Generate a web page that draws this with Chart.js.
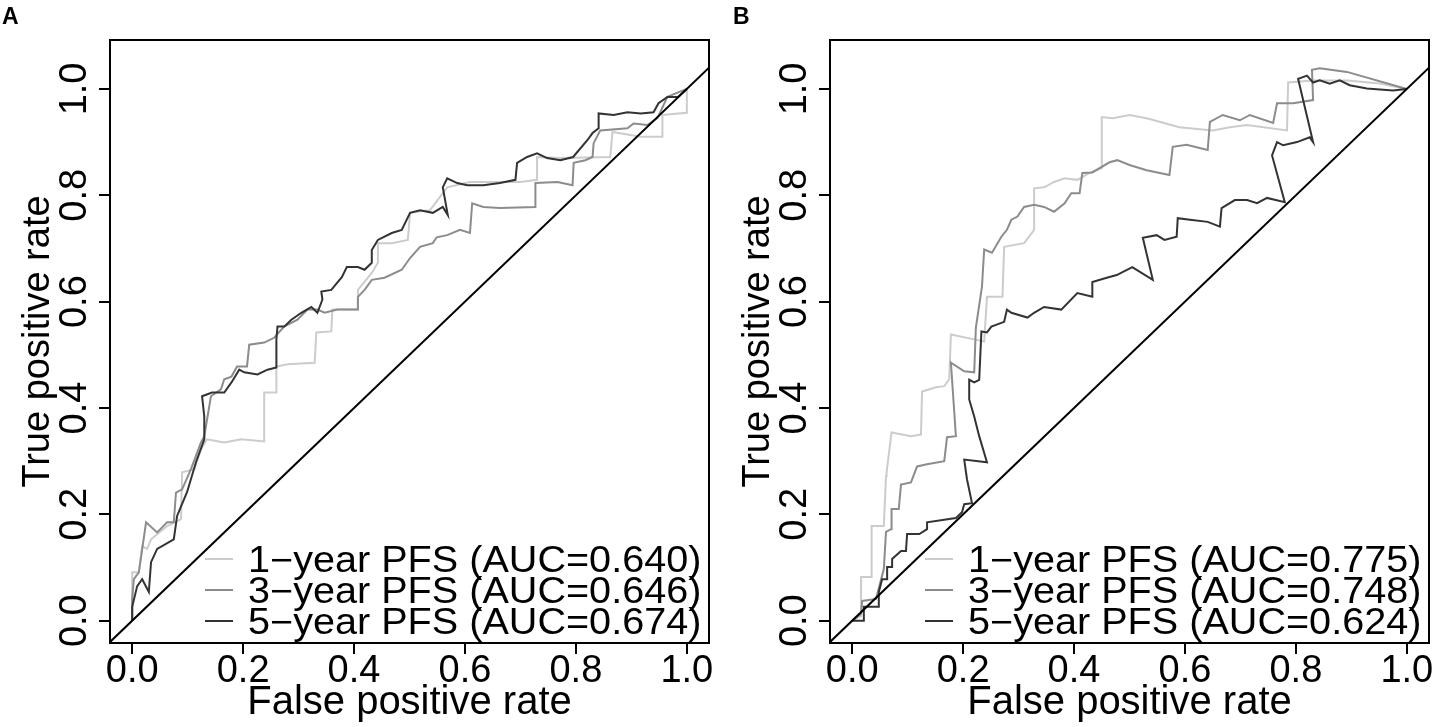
<!DOCTYPE html>
<html>
<head>
<meta charset="utf-8">
<script src="https://cdn.jsdelivr.net/npm/chart.js@4.4.1/dist/chart.umd.min.js"></script>
<style>
html, body { margin: 0; padding: 0; background: #fff; }
#wrap { position: relative; width: 1440px; height: 727px; overflow: hidden; }
.panel { position: absolute; top: 0; width: 720px; height: 727px; }
</style>
</head>
<body>
<div id="wrap">
  <div class="panel" style="left:0"><canvas id="rocA" width="720" height="727"></canvas></div>
  <div class="panel" style="left:720px"><canvas id="rocB" width="720" height="727"></canvas></div>
</div>
<script>
// axis ranges and ticks
var tickValues = [0, 0.2, 0.4, 0.6, 0.8, 1.0];
var xMin = -0.04, xMax = 1.04;
var yMin = -0.042, yMax = 1.092;

var seriesNames = ['1\u2212year PFS', '3\u2212year PFS', '5\u2212year PFS'];
var seriesColors = ['#cccccc', '#8c8c8c', '#333333'];
var aucA = ['0.640', '0.646', '0.674'];
var aucB = ['0.775', '0.748', '0.624'];

// panel A, 1-year
var fprA1 = [0, 0, 0.012, 0.018, 0.027, 0.034, 0.063, 0.088, 0.090, 0.112, 0.124, 0.135, 0.166, 0.197, 0.238, 0.238, 0.260, 0.260, 0.280, 0.329, 0.332, 0.359, 0.361, 0.407, 0.407, 0.432, 0.443, 0.443, 0.468, 0.497, 0.501, 0.537, 0.568, 0.609, 0.700, 0.730, 0.730, 0.772, 0.862, 0.866, 0.917, 0.956, 0.956, 1.0, 1.0];
var tprA1 = [0, 0.091, 0.091, 0.140, 0.135, 0.153, 0.178, 0.191, 0.279, 0.285, 0.322, 0.341, 0.335, 0.341, 0.337, 0.429, 0.429, 0.478, 0.482, 0.485, 0.542, 0.544, 0.585, 0.585, 0.622, 0.654, 0.673, 0.710, 0.710, 0.716, 0.767, 0.772, 0.815, 0.825, 0.825, 0.829, 0.872, 0.870, 0.872, 0.919, 0.910, 0.910, 0.951, 0.955, 1.0];
// panel A, 3-year
var fprA3 = [0, 0, 0.003, 0.012, 0.025, 0.045, 0.063, 0.075, 0.079, 0.090, 0.106, 0.124, 0.130, 0.142, 0.160, 0.166, 0.179, 0.189, 0.207, 0.211, 0.238, 0.256, 0.274, 0.298, 0.316, 0.334, 0.347, 0.370, 0.407, 0.407, 0.419, 0.432, 0.455, 0.486, 0.501, 0.519, 0.542, 0.549, 0.568, 0.591, 0.609, 0.613, 0.633, 0.663, 0.727, 0.727, 0.767, 0.794, 0.796, 0.817, 0.830, 0.832, 0.844, 0.893, 0.904, 0.929, 0.947, 0.965, 1.0];
var tprA3 = [0, 0.041, 0.078, 0.091, 0.185, 0.166, 0.185, 0.185, 0.241, 0.247, 0.285, 0.335, 0.347, 0.422, 0.435, 0.454, 0.459, 0.478, 0.478, 0.519, 0.523, 0.532, 0.553, 0.566, 0.585, 0.585, 0.579, 0.585, 0.585, 0.609, 0.622, 0.641, 0.645, 0.660, 0.682, 0.703, 0.710, 0.721, 0.725, 0.735, 0.729, 0.785, 0.778, 0.776, 0.778, 0.823, 0.825, 0.819, 0.861, 0.866, 0.872, 0.898, 0.922, 0.926, 0.935, 0.932, 0.945, 0.985, 1.0];
// panel A, 5-year
var fprA5 = [0, 0, 0.009, 0.018, 0.030, 0.034, 0.045, 0.075, 0.081, 0.099, 0.115, 0.130, 0.130, 0.126, 0.144, 0.166, 0.179, 0.193, 0.202, 0.226, 0.244, 0.260, 0.260, 0.262, 0.274, 0.287, 0.305, 0.323, 0.334, 0.343, 0.341, 0.359, 0.378, 0.387, 0.407, 0.419, 0.432, 0.432, 0.443, 0.468, 0.486, 0.501, 0.519, 0.542, 0.560, 0.569, 0.560, 0.568, 0.586, 0.604, 0.633, 0.663, 0.691, 0.694, 0.712, 0.730, 0.748, 0.772, 0.795, 0.821, 0.830, 0.841, 0.841, 0.868, 0.893, 0.917, 0.940, 0.949, 0.965, 0.984, 1.0];
var tprA5 = [0, 0.026, 0.065, 0.078, 0.054, 0.110, 0.135, 0.153, 0.197, 0.242, 0.298, 0.341, 0.384, 0.422, 0.429, 0.429, 0.448, 0.472, 0.467, 0.463, 0.472, 0.476, 0.529, 0.553, 0.553, 0.566, 0.579, 0.590, 0.579, 0.604, 0.619, 0.622, 0.646, 0.665, 0.665, 0.660, 0.673, 0.697, 0.716, 0.729, 0.735, 0.767, 0.772, 0.767, 0.778, 0.763, 0.815, 0.832, 0.823, 0.819, 0.819, 0.823, 0.829, 0.861, 0.872, 0.879, 0.870, 0.866, 0.872, 0.904, 0.917, 0.926, 0.954, 0.951, 0.956, 0.954, 0.956, 0.973, 0.985, 0.985, 1.0];

// panel B, 1-year
var fprB1 = [0, 0.016, 0.016, 0.035, 0.035, 0.057, 0.061, 0.062, 0.071, 0.106, 0.124, 0.126, 0.151, 0.166, 0.175, 0.178, 0.220, 0.238, 0.243, 0.271, 0.274, 0.310, 0.328, 0.328, 0.346, 0.364, 0.383, 0.406, 0.428, 0.450, 0.450, 0.470, 0.500, 0.531, 0.590, 0.650, 0.681, 0.712, 0.784, 0.786, 0.831, 0.892, 0.952, 1.0];
var tprB1 = [0, 0.009, 0.082, 0.082, 0.178, 0.178, 0.272, 0.279, 0.354, 0.347, 0.350, 0.431, 0.439, 0.441, 0.454, 0.538, 0.529, 0.525, 0.609, 0.609, 0.703, 0.710, 0.735, 0.813, 0.815, 0.825, 0.832, 0.829, 0.842, 0.851, 0.947, 0.945, 0.951, 0.945, 0.928, 0.922, 0.928, 0.932, 0.922, 1.012, 1.016, 1.016, 1.010, 1.0];
// panel B, 3-year
var fprB3 = [0, 0.016, 0.018, 0.043, 0.057, 0.061, 0.070, 0.071, 0.084, 0.088, 0.106, 0.117, 0.135, 0.166, 0.171, 0.187, 0.178, 0.202, 0.220, 0.223, 0.234, 0.238, 0.252, 0.269, 0.279, 0.287, 0.298, 0.310, 0.328, 0.346, 0.364, 0.383, 0.395, 0.410, 0.415, 0.433, 0.464, 0.478, 0.500, 0.531, 0.572, 0.578, 0.603, 0.641, 0.645, 0.668, 0.699, 0.717, 0.759, 0.766, 0.795, 0.831, 0.829, 0.843, 0.892, 1.0];
var tprB3 = [0, 0.013, 0.037, 0.041, 0.097, 0.167, 0.172, 0.210, 0.210, 0.256, 0.260, 0.290, 0.294, 0.300, 0.345, 0.347, 0.485, 0.469, 0.467, 0.551, 0.628, 0.698, 0.692, 0.722, 0.735, 0.754, 0.760, 0.778, 0.782, 0.778, 0.769, 0.785, 0.804, 0.804, 0.842, 0.843, 0.862, 0.866, 0.857, 0.847, 0.838, 0.891, 0.895, 0.885, 0.938, 0.951, 0.941, 0.951, 0.936, 0.973, 0.973, 0.979, 1.036, 1.039, 1.032, 1.0];
// panel B, 5-year
var fprB5 = [0, 0.021, 0.021, 0.048, 0.048, 0.054, 0.063, 0.063, 0.072, 0.072, 0.088, 0.097, 0.099, 0.121, 0.135, 0.135, 0.175, 0.187, 0.198, 0.202, 0.216, 0.207, 0.202, 0.243, 0.229, 0.220, 0.211, 0.211, 0.220, 0.229, 0.233, 0.243, 0.251, 0.274, 0.279, 0.287, 0.316, 0.328, 0.346, 0.377, 0.406, 0.433, 0.433, 0.459, 0.477, 0.505, 0.542, 0.524, 0.549, 0.563, 0.585, 0.587, 0.609, 0.641, 0.663, 0.666, 0.690, 0.712, 0.730, 0.748, 0.780, 0.757, 0.766, 0.777, 0.802, 0.825, 0.831, 0.804, 0.820, 0.831, 0.843, 0.861, 0.879, 0.897, 0.928, 0.975, 1.0];
var tprB5 = [0, 0, 0.026, 0.026, 0.054, 0.078, 0.078, 0.101, 0.101, 0.116, 0.131, 0.131, 0.163, 0.163, 0.172, 0.185, 0.191, 0.193, 0.204, 0.219, 0.221, 0.266, 0.303, 0.298, 0.347, 0.384, 0.416, 0.453, 0.448, 0.453, 0.544, 0.542, 0.553, 0.562, 0.585, 0.579, 0.570, 0.579, 0.590, 0.585, 0.616, 0.609, 0.637, 0.645, 0.650, 0.665, 0.641, 0.720, 0.725, 0.716, 0.722, 0.757, 0.754, 0.750, 0.741, 0.776, 0.791, 0.791, 0.785, 0.795, 0.787, 0.875, 0.900, 0.894, 0.900, 0.909, 0.900, 1.019, 1.025, 1.012, 1.016, 1.010, 1.016, 1.007, 1.001, 0.997, 1.0];

var fontFamily = '"Liberation Sans", Arial, Helvetica, sans-serif';
Chart.defaults.font.family = fontFamily;
Chart.defaults.color = '#000';

function pairs(xs, ys) {
    return xs.map(function (x, i) { return {x: x, y: ys[i]}; });
}

// black frame round the plot region
var boxPlugin = {
    id: 'box',
    afterDatasetsDraw: function (chart) {
        var ctx = chart.ctx, a = chart.chartArea;
        ctx.save();
        ctx.strokeStyle = '#000';
        ctx.lineWidth = 2;
        ctx.strokeRect(a.left, a.top, a.right - a.left, a.bottom - a.top);
        ctx.restore();
    }
};

// R style legend, bottom right, no box
var rocLegend = {
    id: 'rocLegend',
    afterDraw: function (chart) {
        var ctx = chart.ctx, a = chart.chartArea;
        var items = chart.data.datasets.filter(function (d) { return d.label; });
        ctx.save();
        ctx.font = '36px ' + fontFamily;
        ctx.textBaseline = 'alphabetic';
        items.forEach(function (d, i) {
            var base = a.bottom - 71 + i * 31;
            var mid = base - 13;
            ctx.strokeStyle = d.borderColor;
            ctx.lineWidth = 2;
            ctx.beginPath();
            ctx.moveTo(a.left + 95, mid);
            ctx.lineTo(a.left + 123, mid);
            ctx.stroke();
            ctx.save();
            ctx.translate(a.left + 138, base);
            ctx.scale(1.1, 1);
            ctx.fillStyle = '#000';
            ctx.fillText(d.label, 0, 0);
            ctx.restore();
        });
        ctx.restore();
    }
};

// bold panel letter in the top left corner
var panelTag = {
    id: 'panelTag',
    afterDraw: function (chart, args, opts) {
        var ctx = chart.ctx;
        ctx.save();
        ctx.font = 'bold 23px ' + fontFamily;
        ctx.fillStyle = '#000';
        ctx.textBaseline = 'alphabetic';
        ctx.fillText(opts.text, opts.x, 24);
        ctx.restore();
    }
};

function rocChart(id, tag, tagX, curves, aucs) {
    var datasets = curves.map(function (c, i) {
        return {
            label: seriesNames[i] + ' (AUC=' + aucs[i] + ')',
            data: pairs(c[0], c[1]),
            showLine: true,
            borderColor: seriesColors[i],
            borderWidth: 2,
            pointRadius: 0,
            order: 3 - i
        };
    });
    datasets.push({
        label: '',
        data: [{x: xMin, y: xMin}, {x: xMax, y: xMax}],
        showLine: true,
        borderColor: '#000',
        borderWidth: 2,
        pointRadius: 0,
        order: 0
    });

    return new Chart(document.getElementById(id), {
        type: 'scatter',
        data: {datasets: datasets},
        options: {
            responsive: false,
            animation: false,
            layout: {padding: {top: 40, right: 11, left: 0, bottom: 0}},
            plugins: {
                legend: {display: false},
                tooltip: {enabled: false},
                panelTag: {text: tag, x: tagX}
            },
            elements: {line: {tension: 0}},
            scales: {
                x: {
                    type: 'linear',
                    min: xMin,
                    max: xMax,
                    afterBuildTicks: function (s) { s.ticks = tickValues.map(function (v) { return {value: v}; }); },
                    afterFit: function (s) { s.height = 84; },
                    border: {display: false},
                    grid: {drawOnChartArea: false, tickLength: 11, color: '#000', lineWidth: 2},
                    ticks: {
                        color: '#000', padding: -1, maxRotation: 0, autoSkip: false,
                        font: {size: 38, lineHeight: 1},
                        callback: function (v) { return v.toFixed(1); }
                    },
                    title: {
                        display: true, text: 'False positive rate', color: '#000',
                        font: {size: 40, lineHeight: 1.2}, padding: {top: 0, bottom: 0}
                    }
                },
                y: {
                    type: 'linear',
                    min: yMin,
                    max: yMax,
                    afterBuildTicks: function (s) { s.ticks = tickValues.map(function (v) { return {value: v}; }); },
                    afterFit: function (s) { s.width = 110; },
                    border: {display: false},
                    grid: {drawOnChartArea: false, tickLength: 11, color: '#000', lineWidth: 2},
                    ticks: {
                        color: '#000', padding: -3, minRotation: 90, maxRotation: 90,
                        crossAlign: 'center', autoSkip: false,
                        font: {size: 38, lineHeight: 1},
                        callback: function (v) { return v.toFixed(1); }
                    },
                    title: {
                        display: true, text: 'True positive rate', color: '#000',
                        font: {size: 38, lineHeight: 1.2}, padding: {top: 16, bottom: 0}
                    }
                }
            }
        },
        plugins: [boxPlugin, rocLegend, panelTag]
    });
}

rocChart('rocA', 'A', 2, [[fprA1, tprA1], [fprA3, tprA3], [fprA5, tprA5]], aucA);
rocChart('rocB', 'B', 13, [[fprB1, tprB1], [fprB3, tprB3], [fprB5, tprB5]], aucB);
</script>
</body>
</html>
